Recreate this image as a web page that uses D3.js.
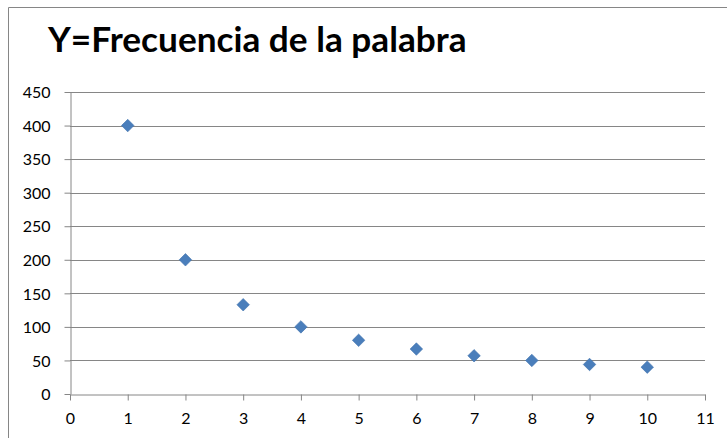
<!DOCTYPE html>
<html lang="es">
<head>
<meta charset="UTF-8">
<title>Frecuencia</title>
<script src="https://d3js.org/d3.v7.min.js"></script>
<style>
    body { margin: 0; background: #fff; }
    text { font-family: Lato, "Open Sans", sans-serif; }
</style>
</head>
<body>
<div id="chart"></div>
<script>
// rank of the word and its frequency
var rango = [1, 2, 3, 4, 5, 6, 7, 8, 9, 10];
var frecuencia = [400, 200, 133, 100, 80, 67, 57, 50, 44, 40];
var xTicks = [0, 1, 2, 3, 4, 5, 6, 7, 8, 9, 10, 11];
var yTicks = [0, 50, 100, 150, 200, 250, 300, 350, 400, 450];
var titulo = "Y=Frecuencia de la palabra";

var W = 727, H = 438;
var mLeft = 70, mRight = 705, mTop = 92, mBottom = 394;
var gris = "#868686";
var azul = "#4a7ebb";

var svg = d3.select("#chart").append("svg")
    .attr("width", W)
    .attr("height", H);

svg.append("rect").attr("width", W).attr("height", H).attr("fill", "#fff");

// chart border (runs off the right and bottom of the picture)
svg.append("path")
    .attr("d", "M8.5," + H + "V7.5H" + W)
    .attr("fill", "none")
    .attr("stroke", gris)
    .attr("stroke-width", 1);

svg.append("text")
    .attr("x", 48)
    .attr("y", 52)
    .attr("font-size", 35.2)
    .attr("font-weight", "bold")
    .attr("fill", "#000")
    .text(titulo);

var x = d3.scaleLinear().domain([0, 11]).range([mLeft, mRight]);
var y = d3.scaleLinear().domain([0, 450]).range([mBottom, mTop]);

// horizontal grid
svg.append("g")
    .selectAll("line")
    .data(yTicks.filter(function(d) { return d > 0; }))
    .enter().append("line")
    .attr("x1", mLeft).attr("x2", mRight)
    .attr("y1", function(d) { return Math.round(y(d)) + 0.5; })
    .attr("y2", function(d) { return Math.round(y(d)) + 0.5; })
    .attr("stroke", gris);

var yAxis = svg.append("g")
    .attr("transform", "translate(" + (mLeft + 0.5) + ",0)")
    .call(d3.axisLeft(y).tickValues(yTicks).tickSize(6).tickPadding(14).tickSizeOuter(0));

var xAxis = svg.append("g")
    .attr("transform", "translate(0," + (mBottom + 0.5) + ")")
    .call(d3.axisBottom(x).tickValues(xTicks).tickSize(6).tickPadding(12).tickSizeOuter(0));

[yAxis, xAxis].forEach(function(a) {
    a.selectAll("path, line").attr("stroke", gris);
    a.selectAll("text")
        .attr("font-family", "Lato, 'Open Sans', sans-serif")
        .attr("font-size", 16)
        .attr("fill", "#000");
});
yAxis.selectAll("text").attr("dy", "0.36em");

var puntos = rango.map(function(r, i) { return { x: r, y: frecuencia[i] }; });

svg.append("g")
    .selectAll("path")
    .data(puntos)
    .enter().append("path")
    .attr("d", d3.symbol().type(d3.symbolDiamond2).size(100))
    .attr("transform", function(d) { return "translate(" + x(d.x) + "," + y(d.y) + ")"; })
    .attr("fill", azul)
    .attr("stroke", "#3f72ad")
    .attr("stroke-width", 0.6);
</script>
</body>
</html>
